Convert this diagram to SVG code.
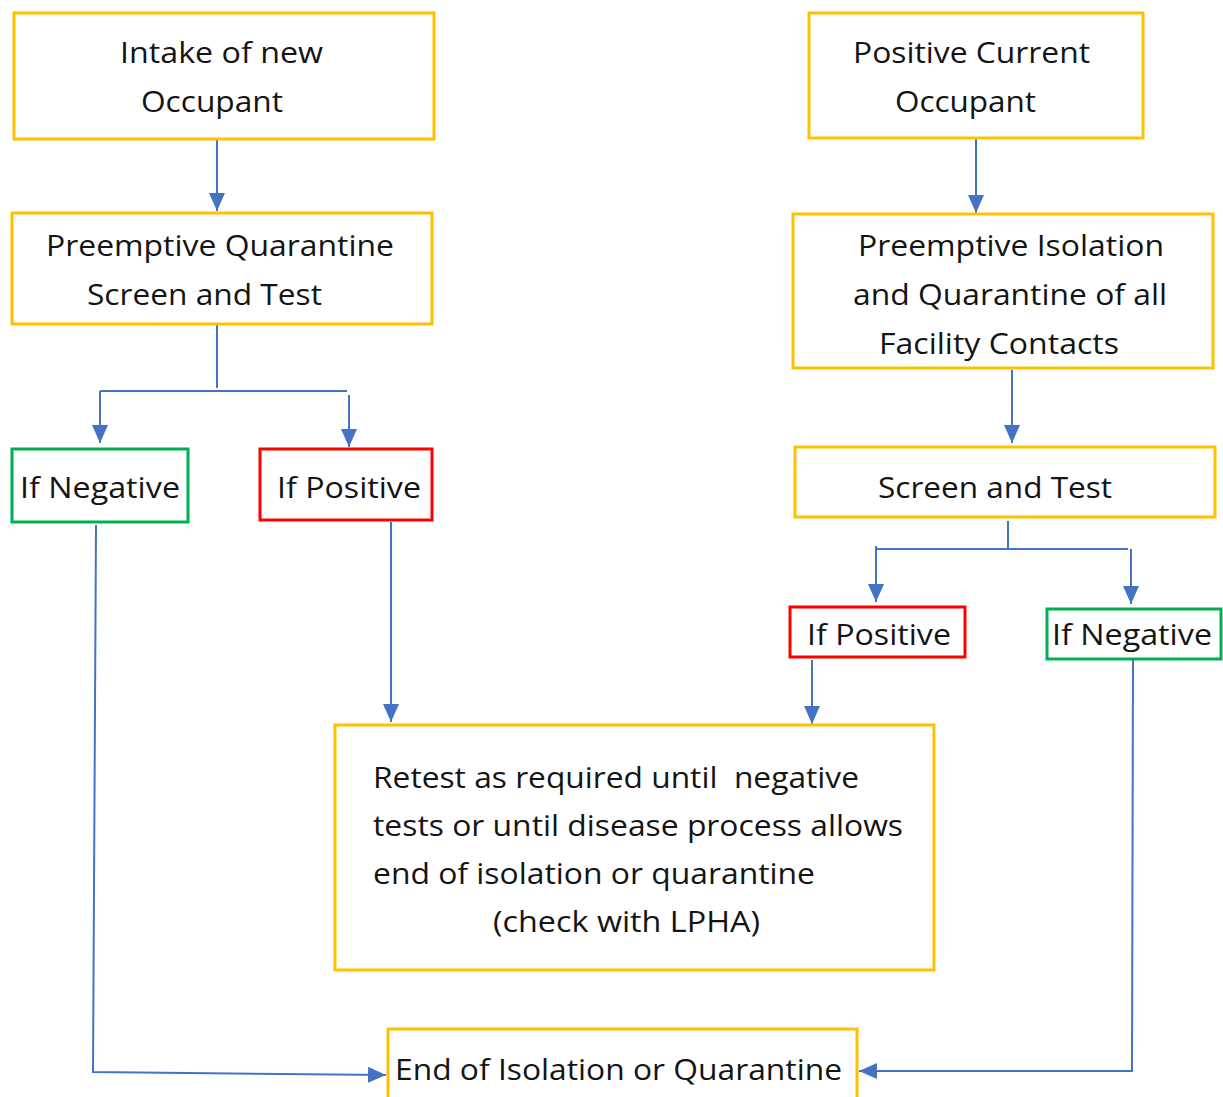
<svg xmlns="http://www.w3.org/2000/svg" width="1223" height="1097" viewBox="0 0 1223 1097">
<style>
.box{fill:#fff;stroke-width:3}
.y{stroke:#FFC000}
.g{stroke:#00B050}
.r{stroke:#FF0000}
text{font-family:"Open Sans","Noto Sans","DejaVu Sans",sans-serif;font-size:29px;fill:#141414}
.c{stroke:#4472C4;stroke-width:2;fill:none}
</style>
<defs>
<marker id="ah" markerUnits="userSpaceOnUse" markerWidth="20" markerHeight="20" viewBox="0 0 20 20" refX="18" refY="10" orient="auto">
<path d="M0,2 L18,10 L0,18 Z" fill="#4472C4"/>
</marker>
</defs>
<rect width="1223" height="1097" fill="#fff"/>
<g id="connectors">
<line class="c" x1="217" y1="140" x2="217" y2="211" marker-end="url(#ah)"/>
<polyline class="c" points="217,325 217,388"/>
<line class="c" x1="100" y1="391" x2="347" y2="391"/>
<line class="c" x1="100" y1="391" x2="100" y2="443" marker-end="url(#ah)"/>
<line class="c" x1="349" y1="395" x2="349" y2="447" marker-end="url(#ah)"/>
<polyline class="c" points="96,525 93,1072 386,1075" marker-end="url(#ah)"/>
<line class="c" x1="391" y1="522" x2="391" y2="722" marker-end="url(#ah)"/>
<line class="c" x1="976" y1="139" x2="976" y2="213" marker-end="url(#ah)"/>
<line class="c" x1="1012" y1="370" x2="1012" y2="443" marker-end="url(#ah)"/>
<line class="c" x1="1008" y1="521" x2="1008" y2="549"/>
<line class="c" x1="876" y1="549" x2="1128" y2="549"/>
<line class="c" x1="876" y1="546" x2="876" y2="602" marker-end="url(#ah)"/>
<line class="c" x1="1131" y1="549" x2="1131" y2="604" marker-end="url(#ah)"/>
<line class="c" x1="812" y1="660" x2="812" y2="724" marker-end="url(#ah)"/>
<polyline class="c" points="1133,660 1132,1071 859,1071" marker-end="url(#ah)"/>
</g>
<g id="n-intake">
<rect class="box y" x="14" y="13" width="420" height="126"/>
<text x="120" y="63" textLength="203" lengthAdjust="spacingAndGlyphs">Intake of new</text>
<text x="141" y="112" textLength="142" lengthAdjust="spacingAndGlyphs">Occupant</text>
</g>
<g id="n-preq">
<rect class="box y" x="12" y="213" width="420" height="111"/>
<text x="46" y="256" textLength="348" lengthAdjust="spacingAndGlyphs">Preemptive Quarantine</text>
<text x="87" y="305" textLength="235" lengthAdjust="spacingAndGlyphs">Screen and Test</text>
</g>
<g id="n-neg-left">
<rect class="box g" x="12" y="449" width="176" height="73"/>
<text x="20" y="498" textLength="160" lengthAdjust="spacingAndGlyphs">If Negative</text>
</g>
<g id="n-pos-left">
<rect class="box r" x="260" y="449" width="172" height="71"/>
<text x="277" y="498" textLength="144" lengthAdjust="spacingAndGlyphs">If Positive</text>
</g>
<g id="n-poscur">
<rect class="box y" x="809" y="13" width="334" height="125"/>
<text x="853" y="63" textLength="237" lengthAdjust="spacingAndGlyphs">Positive Current</text>
<text x="895" y="112" textLength="141" lengthAdjust="spacingAndGlyphs">Occupant</text>
</g>
<g id="n-preiso">
<rect class="box y" x="793" y="214" width="420" height="154"/>
<text x="858" y="256" textLength="306" lengthAdjust="spacingAndGlyphs">Preemptive Isolation</text>
<text x="853" y="305" textLength="314" lengthAdjust="spacingAndGlyphs">and Quarantine of all</text>
<text x="879" y="354" textLength="240" lengthAdjust="spacingAndGlyphs">Facility Contacts</text>
</g>
<g id="n-screen-right">
<rect class="box y" x="795" y="447" width="420" height="70"/>
<text x="878" y="498" textLength="234" lengthAdjust="spacingAndGlyphs">Screen and Test</text>
</g>
<g id="n-pos-right">
<rect class="box r" x="790" y="607" width="175" height="50"/>
<text x="807" y="645" textLength="144" lengthAdjust="spacingAndGlyphs">If Positive</text>
</g>
<g id="n-neg-right">
<rect class="box g" x="1047" y="609" width="174" height="50"/>
<text x="1052" y="645" textLength="160" lengthAdjust="spacingAndGlyphs">If Negative</text>
</g>
<g id="n-retest">
<rect class="box y" x="335" y="725" width="599" height="245"/>
<text x="373" y="788" textLength="486" lengthAdjust="spacingAndGlyphs" xml:space="preserve">Retest as required until  negative</text>
<text x="373" y="836" textLength="530" lengthAdjust="spacingAndGlyphs">tests or until disease process allows</text>
<text x="373" y="884" textLength="442" lengthAdjust="spacingAndGlyphs">end of isolation or quarantine</text>
<text x="493" y="932" textLength="267" lengthAdjust="spacingAndGlyphs">(check with LPHA)</text>
</g>
<g id="n-end">
<rect class="box y" x="388" y="1029" width="469" height="80"/>
<text x="395" y="1080" textLength="447" lengthAdjust="spacingAndGlyphs">End of Isolation or Quarantine</text>
</g>
</svg>
